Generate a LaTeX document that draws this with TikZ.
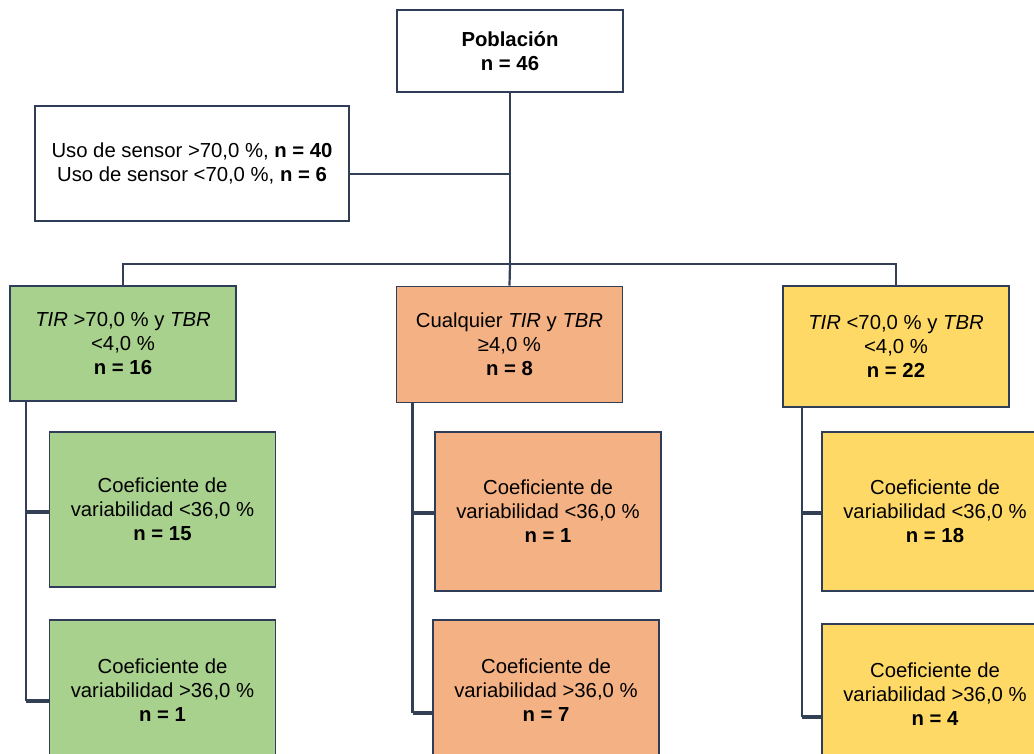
\documentclass[tikz,border=0pt]{standalone}
\usepackage{fontspec}
\setmainfont{Liberation Sans}
\definecolor{edge}{HTML}{2F3D58}
\definecolor{lne}{HTML}{333F55}
\definecolor{gfill}{HTML}{A9D18E}
\definecolor{ofill}{HTML}{F4B183}
\definecolor{yfill}{HTML}{FFD966}
\tikzset{
  box/.style={draw=edge, line width=1.8pt, align=center, inner sep=0pt,
    font=\fontsize{20.3}{24}\selectfont, minimum width=226pt},
  conn/.style={draw=lne, line width=2.2pt},
  branch/.style={draw=lne, line width=3.4pt}
}
\begin{document}
\begin{tikzpicture}[x=1pt,y=-1pt]
\useasboundingbox (0,0) rectangle (1034,753);
\clip (0,0) rectangle (1034,753);
% top
\node[box, fill=white, minimum height=82pt] (top) at (510,51) {\textbf{Población}\\\textbf{n = 46}};
\node[box, fill=white, minimum width=314pt, minimum height=115pt] (uso) at (192,163.5)
  {Uso de sensor >70,0 \%, \textbf{n = 40}\\Uso de sensor <70,0 \%, \textbf{n = 6}};
% main groups
\node[box, fill=gfill, minimum height=115pt] (g) at (123,343.5)
  {\textit{TIR} >70,0 \% y \textit{TBR}\\<4,0 \%\\\textbf{n = 16}};
\node[box, fill=ofill, minimum height=116pt] (o) at (509.5,344.5)
  {Cualquier \textit{TIR} y \textit{TBR}\\≥4,0 \%\\\textbf{n = 8}};
\node[box, fill=yfill, minimum height=121pt] (y) at (896,346.5)
  {\textit{TIR} <70,0 \% y \textit{TBR}\\<4,0 \%\\\textbf{n = 22}};
% sub boxes
\node[box, fill=gfill, minimum height=155pt] (gs1) at (162.5,509.5)
  {Coeficiente de\\variabilidad <36,0 \%\\\textbf{n = 15}};
\node[box, fill=gfill, minimum height=140pt] (gs2) at (162.5,690)
  {Coeficiente de\\variabilidad >36,0 \%\\\textbf{n = 1}};
\node[box, fill=ofill, minimum height=159pt] (os1) at (548,511.5)
  {Coeficiente de\\variabilidad <36,0 \%\\\textbf{n = 1}};
\node[box, fill=ofill, minimum height=140pt] (os2) at (546,690)
  {Coeficiente de\\variabilidad >36,0 \%\\\textbf{n = 7}};
\node[box, fill=yfill, minimum height=159pt] (ys1) at (935,511.5)
  {Coeficiente de\\variabilidad <36,0 \%\\\textbf{n = 18}};
\node[box, fill=yfill, minimum height=140pt] (ys2) at (935,694)
  {Coeficiente de\\variabilidad >36,0 \%\\\textbf{n = 4}};
% junctions
\coordinate (j1) at (510,174);
\coordinate (j2) at (510,264);
\draw[conn] (top.south) -- (j2);
\draw[conn] (uso.east |- j1) -- (j1);
\draw[conn] (g.north) -- (g.north |- j2) -- (y.north |- j2) -- (y.north);
\draw[conn] (j2) -- (o.north);
% green branches
\coordinate (gv) at (26,401);
\coordinate (gb1) at (26,512);
\coordinate (gb2) at (26,701);
\draw[conn] (gv) -- (gb2);
\draw[branch] (gb1) -- (gb1 -| gs1.west);
\draw[branch] (gb2) -- (gb2 -| gs2.west);
% orange branches
\coordinate (ov) at (412.5,402.5);
\coordinate (ob1) at (412.5,513);
\coordinate (ob2) at (412.5,713);
\draw[conn] (ov) -- (ob2);
\draw[branch] (ob1) -- (ob1 -| os1.west);
\draw[branch] (ob2) -- (ob2 -| os2.west);
% yellow branches
\coordinate (yv) at (802,407);
\coordinate (yb1) at (802,513);
\coordinate (yb2) at (802,717);
\draw[conn] (yv) -- (yb2);
\draw[branch] (yb1) -- (yb1 -| ys1.west);
\draw[branch] (yb2) -- (yb2 -| ys2.west);
\end{tikzpicture}
\end{document}
